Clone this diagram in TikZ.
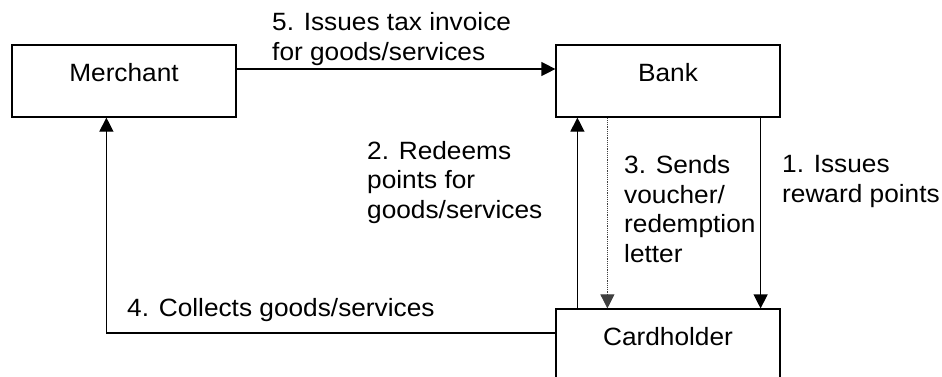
\documentclass[tikz,border=0pt]{standalone}
\usepackage{fontspec}
\setmainfont[FakeStretch=1.05]{Liberation Sans}
\usetikzlibrary{arrows.meta}
\begin{document}
\begin{tikzpicture}[x=1pt,y=-1pt,
    font=\fontsize{25}{29.5}\selectfont,
    box/.style={draw, line width=1.2pt, minimum width=224pt, minimum height=72pt,
        text height=0pt, text depth=0pt, inner sep=0pt},
    lbl/.style={align=left, inner sep=0pt, anchor=base west},
    link/.style={line width=1.2pt, -{Triangle[length=14pt,width=14pt]}}]
    \useasboundingbox (0,0) rectangle (942,376);

% the three parties
\node[box] (merchant) at (124,81) {Merchant};
\node[box] (bank) at (668,81) {Bank};
\node[box] (holder) at (668,345) {Cardholder};

% flows
\draw[link] ([yshift=12pt]merchant.east) -- ([yshift=12pt]bank.west);
\draw[link] ([xshift=22pt]holder.north west) -- ([xshift=22pt]bank.south west);
\draw[link, densely dotted, line width=.8pt, black!75] ([xshift=52pt]bank.south west) -- ([xshift=52pt]holder.north west);
\draw[link] ([xshift=-20pt]bank.south east) -- ([xshift=-20pt]holder.north east);
\draw[link] ([yshift=12pt]holder.west) -| ([xshift=95pt]merchant.south west);

% steps (anchored on the baseline of the last line)
\node[lbl] (s1) at (782,202) {1. Issues\\reward points};
\node[lbl] (s2) at (367,218) {2. Redeems\\points for\\goods/services};
\node[lbl] (s3) at (624,262) {3. Sends\\voucher/\\redemption\\letter};
\node[lbl] (s4) at (127,316) {4. Collects goods/services};
\node[lbl] (s5) at (272,60) {5. Issues tax invoice\\for goods/services};

\end{tikzpicture}
\end{document}
